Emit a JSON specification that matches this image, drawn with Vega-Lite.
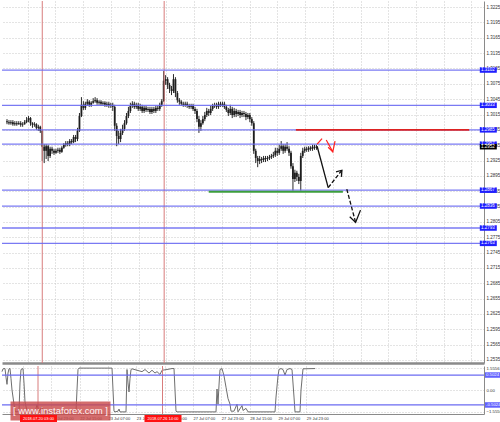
{
"$schema": "https://vega.github.io/schema/vega-lite/v6.json",
"padding": 0,
"spacing": 1,
"background": "white",
"config": {"view": {"stroke": null}, "font": "Liberation Sans", "axis": {"titleFontSize": 1}},
"datasets": {
"candles": [
{"t":0,"o":1.3002,"h":1.3006,"l":1.2996,"c":1.3000},
{"t":2,"o":1.3000,"h":1.3004,"l":1.2995,"c":1.2998},
{"t":4,"o":1.2998,"h":1.3004,"l":1.2995,"c":1.3000},
{"t":6,"o":1.3000,"h":1.3004,"l":1.2993,"c":1.2996},
{"t":8,"o":1.2996,"h":1.3002,"l":1.2993,"c":1.2998},
{"t":10,"o":1.2998,"h":1.3002,"l":1.2993,"c":1.2996},
{"t":12,"o":1.2996,"h":1.3002,"l":1.2995,"c":1.2998},
{"t":14,"o":1.2998,"h":1.3002,"l":1.2991,"c":1.2995},
{"t":16,"o":1.2995,"h":1.3000,"l":1.2991,"c":1.2996},
{"t":18,"o":1.2996,"h":1.3004,"l":1.2995,"c":1.3000},
{"t":20,"o":1.3000,"h":1.3010,"l":1.2998,"c":1.3004},
{"t":22,"o":1.3004,"h":1.3012,"l":1.3000,"c":1.3008},
{"t":24,"o":1.3008,"h":1.3010,"l":1.2993,"c":1.2998},
{"t":26,"o":1.2998,"h":1.3000,"l":1.2989,"c":1.2995},
{"t":28,"o":1.2995,"h":1.3000,"l":1.2991,"c":1.2996},
{"t":30,"o":1.2996,"h":1.2998,"l":1.2985,"c":1.2989},
{"t":32,"o":1.2989,"h":1.2995,"l":1.2983,"c":1.2991},
{"t":34,"o":1.2991,"h":1.2993,"l":1.2979,"c":1.2983},
{"t":36,"o":1.2983,"h":1.2985,"l":1.2924,"c":1.2952},
{"t":38,"o":1.2952,"h":1.2957,"l":1.2920,"c":1.2944},
{"t":40,"o":1.2944,"h":1.2957,"l":1.2928,"c":1.2953},
{"t":42,"o":1.2953,"h":1.2956,"l":1.2924,"c":1.2934},
{"t":44,"o":1.2934,"h":1.2952,"l":1.2930,"c":1.2948},
{"t":46,"o":1.2948,"h":1.2952,"l":1.2938,"c":1.2944},
{"t":48,"o":1.2944,"h":1.2948,"l":1.2936,"c":1.2940},
{"t":50,"o":1.2940,"h":1.2948,"l":1.2938,"c":1.2944},
{"t":52,"o":1.2944,"h":1.2950,"l":1.2940,"c":1.2946},
{"t":54,"o":1.2946,"h":1.2950,"l":1.2938,"c":1.2942},
{"t":56,"o":1.2942,"h":1.2953,"l":1.2940,"c":1.2950},
{"t":58,"o":1.2950,"h":1.2959,"l":1.2948,"c":1.2956},
{"t":60,"o":1.2956,"h":1.2963,"l":1.2952,"c":1.2959},
{"t":62,"o":1.2959,"h":1.2963,"l":1.2953,"c":1.2957},
{"t":64,"o":1.2957,"h":1.2967,"l":1.2953,"c":1.2963},
{"t":66,"o":1.2963,"h":1.2967,"l":1.2957,"c":1.2961},
{"t":68,"o":1.2961,"h":1.2975,"l":1.2959,"c":1.2971},
{"t":70,"o":1.2971,"h":1.2975,"l":1.2961,"c":1.2967},
{"t":72,"o":1.2967,"h":1.2989,"l":1.2963,"c":1.2983},
{"t":74,"o":1.2983,"h":1.3018,"l":1.2981,"c":1.3012},
{"t":76,"o":1.3012,"h":1.3049,"l":1.3010,"c":1.3034},
{"t":78,"o":1.3034,"h":1.3041,"l":1.3024,"c":1.3028},
{"t":80,"o":1.3028,"h":1.3040,"l":1.3024,"c":1.3036},
{"t":82,"o":1.3036,"h":1.3045,"l":1.3032,"c":1.3040},
{"t":84,"o":1.3040,"h":1.3043,"l":1.3030,"c":1.3034},
{"t":86,"o":1.3034,"h":1.3041,"l":1.3030,"c":1.3038},
{"t":88,"o":1.3038,"h":1.3047,"l":1.3036,"c":1.3041},
{"t":90,"o":1.3041,"h":1.3049,"l":1.3038,"c":1.3043},
{"t":92,"o":1.3043,"h":1.3047,"l":1.3034,"c":1.3038},
{"t":94,"o":1.3038,"h":1.3043,"l":1.3034,"c":1.3040},
{"t":96,"o":1.3040,"h":1.3043,"l":1.3032,"c":1.3036},
{"t":98,"o":1.3036,"h":1.3041,"l":1.3032,"c":1.3038},
{"t":100,"o":1.3038,"h":1.3041,"l":1.3030,"c":1.3034},
{"t":102,"o":1.3034,"h":1.3040,"l":1.3030,"c":1.3036},
{"t":104,"o":1.3036,"h":1.3040,"l":1.3028,"c":1.3032},
{"t":106,"o":1.3032,"h":1.3038,"l":1.3028,"c":1.3034},
{"t":108,"o":1.3034,"h":1.3038,"l":1.3022,"c":1.3030},
{"t":110,"o":1.3030,"h":1.3034,"l":1.2983,"c":1.2993},
{"t":112,"o":1.2993,"h":1.2998,"l":1.2953,"c":1.2973},
{"t":114,"o":1.2973,"h":1.2983,"l":1.2957,"c":1.2967},
{"t":116,"o":1.2967,"h":1.2987,"l":1.2961,"c":1.2979},
{"t":118,"o":1.2979,"h":1.2995,"l":1.2975,"c":1.2987},
{"t":120,"o":1.2987,"h":1.3004,"l":1.2983,"c":1.2998},
{"t":122,"o":1.2998,"h":1.3018,"l":1.2995,"c":1.3012},
{"t":124,"o":1.3012,"h":1.3030,"l":1.3008,"c":1.3022},
{"t":126,"o":1.3022,"h":1.3038,"l":1.3018,"c":1.3032},
{"t":128,"o":1.3032,"h":1.3041,"l":1.3028,"c":1.3036},
{"t":130,"o":1.3036,"h":1.3040,"l":1.3026,"c":1.3030},
{"t":132,"o":1.3030,"h":1.3038,"l":1.3026,"c":1.3034},
{"t":134,"o":1.3034,"h":1.3038,"l":1.3022,"c":1.3026},
{"t":136,"o":1.3026,"h":1.3036,"l":1.3022,"c":1.3030},
{"t":138,"o":1.3030,"h":1.3034,"l":1.3018,"c":1.3022},
{"t":140,"o":1.3022,"h":1.3032,"l":1.3018,"c":1.3028},
{"t":142,"o":1.3028,"h":1.3032,"l":1.3020,"c":1.3024},
{"t":144,"o":1.3024,"h":1.3030,"l":1.3020,"c":1.3026},
{"t":146,"o":1.3026,"h":1.3030,"l":1.3016,"c":1.3020},
{"t":148,"o":1.3020,"h":1.3030,"l":1.3016,"c":1.3026},
{"t":150,"o":1.3026,"h":1.3030,"l":1.3018,"c":1.3022},
{"t":152,"o":1.3022,"h":1.3032,"l":1.3018,"c":1.3028},
{"t":154,"o":1.3028,"h":1.3032,"l":1.3022,"c":1.3026},
{"t":156,"o":1.3026,"h":1.3038,"l":1.3022,"c":1.3034},
{"t":158,"o":1.3034,"h":1.3045,"l":1.3030,"c":1.3041},
{"t":160,"o":1.3041,"h":1.3100,"l":1.3040,"c":1.3081},
{"t":162,"o":1.3081,"h":1.3092,"l":1.3073,"c":1.3084},
{"t":164,"o":1.3084,"h":1.3088,"l":1.3065,"c":1.3073},
{"t":166,"o":1.3073,"h":1.3077,"l":1.3057,"c":1.3065},
{"t":168,"o":1.3065,"h":1.3071,"l":1.3053,"c":1.3061},
{"t":170,"o":1.3061,"h":1.3094,"l":1.3057,"c":1.3084},
{"t":172,"o":1.3084,"h":1.3088,"l":1.3049,"c":1.3057},
{"t":174,"o":1.3057,"h":1.3061,"l":1.3038,"c":1.3043},
{"t":176,"o":1.3043,"h":1.3047,"l":1.3034,"c":1.3040},
{"t":178,"o":1.3040,"h":1.3043,"l":1.3032,"c":1.3036},
{"t":180,"o":1.3036,"h":1.3040,"l":1.3030,"c":1.3034},
{"t":182,"o":1.3034,"h":1.3040,"l":1.3030,"c":1.3036},
{"t":184,"o":1.3036,"h":1.3040,"l":1.3028,"c":1.3032},
{"t":186,"o":1.3032,"h":1.3036,"l":1.3026,"c":1.3030},
{"t":188,"o":1.3030,"h":1.3036,"l":1.3026,"c":1.3032},
{"t":190,"o":1.3032,"h":1.3036,"l":1.3022,"c":1.3026},
{"t":192,"o":1.3026,"h":1.3030,"l":1.3016,"c":1.3022},
{"t":194,"o":1.3022,"h":1.3026,"l":1.3000,"c":1.3006},
{"t":196,"o":1.3006,"h":1.3012,"l":1.2979,"c":1.2991},
{"t":198,"o":1.2991,"h":1.3004,"l":1.2983,"c":1.2998},
{"t":200,"o":1.2998,"h":1.3012,"l":1.2995,"c":1.3006},
{"t":202,"o":1.3006,"h":1.3020,"l":1.3002,"c":1.3014},
{"t":204,"o":1.3014,"h":1.3028,"l":1.3010,"c":1.3022},
{"t":206,"o":1.3022,"h":1.3026,"l":1.3012,"c":1.3018},
{"t":208,"o":1.3018,"h":1.3032,"l":1.3014,"c":1.3026},
{"t":210,"o":1.3026,"h":1.3036,"l":1.3022,"c":1.3032},
{"t":212,"o":1.3032,"h":1.3038,"l":1.3028,"c":1.3034},
{"t":214,"o":1.3034,"h":1.3038,"l":1.3026,"c":1.3030},
{"t":216,"o":1.3030,"h":1.3040,"l":1.3026,"c":1.3036},
{"t":218,"o":1.3036,"h":1.3040,"l":1.3030,"c":1.3034},
{"t":220,"o":1.3034,"h":1.3040,"l":1.3030,"c":1.3036},
{"t":222,"o":1.3036,"h":1.3040,"l":1.3026,"c":1.3030},
{"t":224,"o":1.3030,"h":1.3034,"l":1.3020,"c":1.3024},
{"t":226,"o":1.3024,"h":1.3028,"l":1.3012,"c":1.3018},
{"t":228,"o":1.3018,"h":1.3034,"l":1.3014,"c":1.3026},
{"t":230,"o":1.3026,"h":1.3030,"l":1.3008,"c":1.3014},
{"t":232,"o":1.3014,"h":1.3028,"l":1.3010,"c":1.3022},
{"t":234,"o":1.3022,"h":1.3026,"l":1.3010,"c":1.3016},
{"t":236,"o":1.3016,"h":1.3024,"l":1.3012,"c":1.3020},
{"t":238,"o":1.3020,"h":1.3024,"l":1.3008,"c":1.3014},
{"t":240,"o":1.3014,"h":1.3022,"l":1.3010,"c":1.3018},
{"t":242,"o":1.3018,"h":1.3022,"l":1.3010,"c":1.3016},
{"t":244,"o":1.3016,"h":1.3020,"l":1.3004,"c":1.3010},
{"t":246,"o":1.3010,"h":1.3018,"l":1.3006,"c":1.3014},
{"t":248,"o":1.3014,"h":1.3018,"l":1.3000,"c":1.3006},
{"t":250,"o":1.3006,"h":1.3010,"l":1.2993,"c":1.2998},
{"t":252,"o":1.2998,"h":1.3002,"l":1.2938,"c":1.2944},
{"t":254,"o":1.2944,"h":1.2948,"l":1.2920,"c":1.2930},
{"t":256,"o":1.2930,"h":1.2934,"l":1.2912,"c":1.2924},
{"t":258,"o":1.2924,"h":1.2934,"l":1.2918,"c":1.2928},
{"t":260,"o":1.2928,"h":1.2932,"l":1.2920,"c":1.2926},
{"t":262,"o":1.2926,"h":1.2934,"l":1.2922,"c":1.2930},
{"t":264,"o":1.2930,"h":1.2934,"l":1.2922,"c":1.2928},
{"t":266,"o":1.2928,"h":1.2934,"l":1.2924,"c":1.2930},
{"t":268,"o":1.2930,"h":1.2936,"l":1.2926,"c":1.2932},
{"t":270,"o":1.2932,"h":1.2938,"l":1.2928,"c":1.2934},
{"t":272,"o":1.2934,"h":1.2942,"l":1.2930,"c":1.2936},
{"t":274,"o":1.2936,"h":1.2950,"l":1.2932,"c":1.2944},
{"t":276,"o":1.2944,"h":1.2950,"l":1.2934,"c":1.2940},
{"t":278,"o":1.2940,"h":1.2956,"l":1.2936,"c":1.2948},
{"t":280,"o":1.2948,"h":1.2963,"l":1.2944,"c":1.2953},
{"t":282,"o":1.2953,"h":1.2957,"l":1.2938,"c":1.2944},
{"t":284,"o":1.2944,"h":1.2957,"l":1.2940,"c":1.2952},
{"t":286,"o":1.2952,"h":1.2961,"l":1.2944,"c":1.2948},
{"t":288,"o":1.2948,"h":1.2953,"l":1.2934,"c":1.2940},
{"t":290,"o":1.2940,"h":1.2944,"l":1.2909,"c":1.2914},
{"t":292,"o":1.2914,"h":1.2920,"l":1.2866,"c":1.2889},
{"t":294,"o":1.2889,"h":1.2907,"l":1.2883,"c":1.2901},
{"t":296,"o":1.2901,"h":1.2905,"l":1.2885,"c":1.2893},
{"t":298,"o":1.2893,"h":1.2899,"l":1.2879,"c":1.2885},
{"t":300,"o":1.2885,"h":1.2940,"l":1.2866,"c":1.2934},
{"t":302,"o":1.2934,"h":1.2950,"l":1.2930,"c":1.2944},
{"t":304,"o":1.2944,"h":1.2952,"l":1.2940,"c":1.2948},
{"t":306,"o":1.2948,"h":1.2952,"l":1.2942,"c":1.2946},
{"t":308,"o":1.2946,"h":1.2953,"l":1.2942,"c":1.2950},
{"t":310,"o":1.2950,"h":1.2953,"l":1.2944,"c":1.2948},
{"t":312,"o":1.2948,"h":1.2956,"l":1.2944,"c":1.2952},
{"t":314,"o":1.2952,"h":1.2956,"l":1.2946,"c":1.2950},
{"t":316,"o":1.2950,"h":1.2956,"l":1.2946,"c":1.2952}
],
"levels": [
{"p":1.3102,"lab":"1.3102"},{"p":1.3033,"lab":"1.3033"},{"p":1.2985,"lab":"1.2985"},{"p":1.2957,"lab":"1.2957"},
{"p":1.2867,"lab":"1.2867"},{"p":1.2836,"lab":"1.2836"},{"p":1.2793,"lab":"1.2793"},{"p":1.2763,"lab":"1.2763"}
],
"current": [{"p":1.2952,"lab":"1.2952"}],
"segs": [{"kind":"red","t":295,"t2":472,"p":1.2985},{"kind":"green","t":206,"t2":343,"p":1.2864}],
"vlines": [{"t":36},{"t":160.5}],
"arrows": [
{"seg":"r1","i":0,"t":316.7,"p":1.2957},{"seg":"r1","i":1,"t":321.7,"p":1.2968},
{"seg":"r2","i":0,"t":326,"p":1.2965},{"seg":"r2","i":1,"t":332.7,"p":1.2942},{"seg":"r2","i":2,"t":335,"p":1.2963},
{"seg":"r3","i":0,"t":328,"p":1.2951},{"seg":"r3","i":1,"t":332.7,"p":1.2942},
{"seg":"k1","i":0,"t":316.7,"p":1.2953},{"seg":"k1","i":1,"t":328,"p":1.2872},
{"seg":"k2","i":0,"t":328,"p":1.2872},{"seg":"k2","i":1,"t":342,"p":1.2906},
{"seg":"k3","i":0,"t":336,"p":1.2903},{"seg":"k3","i":1,"t":342,"p":1.2906},{"seg":"k3","i":2,"t":341.5,"p":1.2893},
{"seg":"k4","i":0,"t":347,"p":1.2869},{"seg":"k4","i":1,"t":356,"p":1.2804},
{"seg":"k5","i":0,"t":350,"p":1.2815},{"seg":"k5","i":1,"t":356,"p":1.2804},{"seg":"k5","i":2,"t":361,"p":1.2828}
],
"ind": [
{"t":0,"v":1.3},{"t":1,"v":1.5},{"t":3,"v":1.52},{"t":4,"v":0.9},{"t":5,"v":0.4},{"t":6,"v":1.2},{"t":7,"v":1.5},{"t":8,"v":1.52},{"t":9,"v":0.8},{"t":10,"v":0.0},{"t":12,"v":-1.0},{"t":13,"v":-1.5},{"t":15,"v":-1.55},{"t":17,"v":-1.5},{"t":18,"v":0.5},{"t":19,"v":1.45},{"t":21,"v":1.52},{"t":22,"v":0.5},{"t":23,"v":-0.85},{"t":25,"v":-1.5},{"t":27,"v":-1.55},{"t":33,"v":-1.55},{"t":35,"v":-1.05},{"t":37,"v":-1.5},{"t":40,"v":-1.2},{"t":42,"v":-1.55},{"t":74,"v":-1.5},{"t":75,"v":0.0},{"t":76,"v":1.45},{"t":77,"v":1.55},{"t":110,"v":1.55},{"t":111,"v":0.0},{"t":112,"v":-1.5},{"t":113,"v":-1.55},{"t":116,"v":-1.5},{"t":117,"v":-1.35},{"t":118,"v":-1.55},{"t":124,"v":-1.55},{"t":125,"v":1.45},{"t":126,"v":0.5},{"t":127,"v":-0.14},{"t":128,"v":0.8},{"t":129,"v":1.45},{"t":130,"v":1.5},{"t":135,"v":1.4},{"t":140,"v":1.3},{"t":143,"v":1.45},{"t":147,"v":1.2},{"t":150,"v":1.4},{"t":153,"v":1.2},{"t":155,"v":1.3},{"t":158,"v":1.1},{"t":160,"v":1.4},{"t":165,"v":1.45},{"t":170,"v":1.52},{"t":172,"v":1.52},{"t":173,"v":0.0},{"t":174,"v":-1.5},{"t":175,"v":-1.55},{"t":214,"v":-1.55},{"t":215,"v":0.07},{"t":216,"v":-1.0},{"t":217,"v":0.35},{"t":218,"v":1.45},{"t":220,"v":1.52},{"t":222,"v":1.0},{"t":224,"v":0.2},{"t":226,"v":-0.6},{"t":228,"v":-1.0},{"t":229,"v":-1.5},{"t":232,"v":-1.5},{"t":235,"v":-1.0},{"t":236,"v":-1.55},{"t":240,"v":-1.1},{"t":241,"v":-1.45},{"t":244,"v":-1.3},{"t":246,"v":-1.55},{"t":273,"v":-1.55},{"t":274,"v":-0.5},{"t":276,"v":1.0},{"t":277,"v":1.45},{"t":279,"v":1.52},{"t":281,"v":1.45},{"t":283,"v":1.06},{"t":285,"v":1.45},{"t":288,"v":1.52},{"t":290,"v":1.45},{"t":292,"v":-0.5},{"t":293,"v":-1.55},{"t":298,"v":-1.55},{"t":299,"v":0.0},{"t":301,"v":1.5},{"t":313,"v":1.52}
],
"indlev": [{"v":1.06,"lab":"0.5024"},{"v":-1.06,"lab":"-0.5024"}],
"dates": [{"t":36.5,"lab":"2018.07.20 03:00"},{"t":161,"lab":"2018.07.26 14:00"}],
"brand": [{"lab":"[ www.instaforex.com ]"}]
},
"vconcat": [
{
"width": 482, "height": 362,
"layer": [
{"data": {"name": "candles"}, "mark": {"type": "rule", "color": "#2a2a2a", "strokeWidth": 1},
 "encoding": {
  "x": {"field": "t", "type": "quantitative", "scale": {"domain": [0, 482], "nice": false, "zero": false},
        "axis": {"orient": "bottom", "title": null, "labels": false, "ticks": false, "tickCount": 100, "domainColor": "#8a8a8a", "domainWidth": 2.5, "grid": true, "gridColor": "#c8c8c8", "gridDash": [1, 2], "values": [21, 49.33, 77.67, 106, 134.33, 162.67, 191, 219.33, 247.67, 276, 304.33, 332.67, 361, 389.33, 417.67, 446, 474.33]}},
  "y": {"field": "l", "type": "quantitative", "scale": {"domain": [1.2529, 1.3237], "nice": false, "zero": false},
        "axis": {"orient": "right", "title": null, "tickCount": 100, "values": [1.2535,1.2565,1.2595,1.2625,1.2655,1.2685,1.2715,1.2745,1.2775,1.2805,1.2835,1.2865,1.2895,1.2925,1.2955,1.2985,1.3015,1.3045,1.3075,1.3105,1.3135,1.3165,1.3195,1.3225], "format": ".4f", "labelFontSize": 4.5, "labelColor": "#333", "ticks": false, "labelPadding": 2, "domainColor": "#8a8a8a", "grid": true, "gridColor": "#c8c8c8", "gridDash": [1, 2], "labelOverlap": false}},
  "y2": {"field": "h"}
 }},
{"data": {"name": "candles"}, "mark": {"type": "bar", "color": "#1e1e1e", "width": 1.8},
 "encoding": {"x": {"field": "t", "type": "quantitative", "axis": {"title": null}}, "y": {"field": "o", "type": "quantitative", "axis": {"title": null}}, "y2": {"field": "c"}}},
{"data": {"name": "vlines"}, "mark": {"type": "rule", "color": "#d87c7c", "strokeWidth": 1},
 "encoding": {"x": {"field": "t", "type": "quantitative", "axis": {"title": null}}}},
{"data": {"name": "levels"}, "mark": {"type": "rule", "color": "#6b6bf2", "strokeWidth": 1.3, "opacity": 0.9},
 "encoding": {"y": {"field": "p", "type": "quantitative", "axis": {"title": null}}}},
{"data": {"name": "segs"}, "transform": [{"filter": "datum.kind == 'red'"}], "mark": {"type": "rule", "color": "#dd2222", "strokeWidth": 1.6},
 "encoding": {"x": {"field": "t", "type": "quantitative", "axis": {"title": null}}, "x2": {"field": "t2"}, "y": {"field": "p", "type": "quantitative", "axis": {"title": null}}}},
{"data": {"name": "segs"}, "transform": [{"filter": "datum.kind == 'green'"}], "mark": {"type": "rule", "color": "#3c9e3c", "strokeWidth": 2},
 "encoding": {"x": {"field": "t", "type": "quantitative", "axis": {"title": null}}, "x2": {"field": "t2"}, "y": {"field": "p", "type": "quantitative", "axis": {"title": null}}}},
{"data": {"name": "arrows"}, "transform": [{"filter": {"field": "seg", "oneOf": ["r1", "r2", "r3"]}}], "mark": {"type": "line", "color": "#ff2020", "strokeWidth": 1.2},
 "encoding": {"x": {"field": "t", "type": "quantitative", "axis": {"title": null}}, "y": {"field": "p", "type": "quantitative", "axis": {"title": null}}, "detail": {"field": "seg"}, "order": {"field": "i"}}},
{"data": {"name": "arrows"}, "transform": [{"filter": {"field": "seg", "oneOf": ["k1", "k3", "k5"]}}], "mark": {"type": "line", "color": "#111111", "strokeWidth": 1.3},
 "encoding": {"x": {"field": "t", "type": "quantitative", "axis": {"title": null}}, "y": {"field": "p", "type": "quantitative", "axis": {"title": null}}, "detail": {"field": "seg"}, "order": {"field": "i"}}},
{"data": {"name": "arrows"}, "transform": [{"filter": {"field": "seg", "oneOf": ["k2", "k4"]}}], "mark": {"type": "line", "color": "#111111", "strokeWidth": 1.3, "strokeDash": [4, 2]},
 "encoding": {"x": {"field": "t", "type": "quantitative", "axis": {"title": null}}, "y": {"field": "p", "type": "quantitative", "axis": {"title": null}}, "detail": {"field": "seg"}, "order": {"field": "i"}}},
{"data": {"name": "levels"}, "mark": {"type": "tick", "orient": "horizontal", "color": "#1f1fff", "size": 17, "thickness": 5.5, "opacity": 1},
 "encoding": {"x": {"datum": 491.5, "type": "quantitative"}, "y": {"field": "p", "type": "quantitative", "axis": {"title": null}}}},
{"data": {"name": "current"}, "mark": {"type": "tick", "orient": "horizontal", "color": "#000000", "size": 17, "thickness": 5.5, "opacity": 1},
 "encoding": {"x": {"datum": 491.5, "type": "quantitative"}, "y": {"field": "p", "type": "quantitative", "axis": {"title": null}}}},
{"data": {"name": "levels"}, "mark": {"type": "text", "color": "white", "fontSize": 4.5, "align": "left", "baseline": "middle"},
 "encoding": {"x": {"datum": 484, "type": "quantitative"}, "y": {"field": "p", "type": "quantitative", "axis": {"title": null}}, "text": {"field": "lab"}}},
{"data": {"name": "current"}, "mark": {"type": "text", "color": "white", "fontSize": 4.5, "align": "left", "baseline": "middle"},
 "encoding": {"x": {"datum": 484, "type": "quantitative"}, "y": {"field": "p", "type": "quantitative", "axis": {"title": null}}, "text": {"field": "lab"}}}
]
},
{
"width": 482, "height": 48,
"layer": [
{"data": {"name": "ind"}, "mark": {"type": "line", "color": "#6e6e6e", "strokeWidth": 1},
 "encoding": {
  "x": {"field": "t", "type": "quantitative", "scale": {"domain": [0, 482], "nice": false, "zero": false},
        "axis": {"orient": "bottom", "title": null, "tickCount": 100, "values": [21, 49.33, 77.67, 106, 134.33, 162.67, 191, 219.33, 247.67, 276, 304.33], "labelExpr": "datum.value < 30 ? '20 Jul 07:00' : datum.value < 60 ? '20 Jul 23:00' : datum.value < 90 ? '22 Jul 15:00' : datum.value < 120 ? '23 Jul 07:00' : datum.value < 150 ? '23 Jul 23:00' : datum.value < 180 ? '24 Jul 15:00' : datum.value < 200 ? '27 Jul 07:00' : datum.value < 230 ? '27 Jul 23:00' : datum.value < 260 ? '28 Jul 15:00' : datum.value < 290 ? '29 Jul 07:00' : '29 Jul 23:00'", "labelAlign": "left", "labelFontSize": 4, "labelColor": "#333", "labelPadding": 2, "labelFlush": false, "labelOverlap": false, "ticks": false, "domainColor": "#8a8a8a", "grid": true, "gridColor": "#c8c8c8", "gridDash": [1, 2]}},
  "y": {"field": "v", "type": "quantitative", "scale": {"domain": [-1.7, 1.7], "nice": false, "zero": false},
        "axis": {"orient": "right", "title": null, "tickCount": 100, "values": [-1.5556, 0, 1.5556], "labelExpr": "datum.value == 0 ? '0.00' : format(datum.value, '.4f')", "labelFontSize": 4.3, "labelColor": "#333", "ticks": false, "labelPadding": 2, "domainColor": "#8a8a8a", "grid": true, "gridColor": "#c8c8c8", "gridDash": [1, 2], "labelOverlap": false}}
 }},
{"data": {"name": "vlines"}, "mark": {"type": "rule", "color": "#d87c7c", "strokeWidth": 1},
 "encoding": {"x": {"field": "t", "type": "quantitative", "axis": {"title": null}}}},
{"data": {"name": "indlev"}, "mark": {"type": "rule", "color": "#6b6bf2", "strokeWidth": 1.2},
 "encoding": {"y": {"field": "v", "type": "quantitative", "axis": {"title": null}}}},
{"data": {"name": "indlev"}, "mark": {"type": "tick", "orient": "horizontal", "color": "#1f1fff", "size": 17, "thickness": 5.5},
 "encoding": {"x": {"datum": 491.5, "type": "quantitative"}, "y": {"field": "v", "type": "quantitative", "axis": {"title": null}}}},
{"data": {"name": "indlev"}, "mark": {"type": "text", "color": "white", "fontSize": 4.3, "align": "left", "baseline": "middle"},
 "encoding": {"x": {"datum": 484, "type": "quantitative"}, "y": {"field": "v", "type": "quantitative", "axis": {"title": null}}, "text": {"field": "lab"}}},
{"data": {"name": "brand"}, "mark": {"type": "tick", "orient": "horizontal", "color": "#c94848", "size": 100, "thickness": 19, "opacity": 0.8},
 "encoding": {"x": {"datum": 58.5, "type": "quantitative"}, "y": {"datum": -1.49, "type": "quantitative"}}},
{"data": {"name": "dates"}, "mark": {"type": "tick", "orient": "horizontal", "color": "#ff1010", "size": 37, "thickness": 8, "opacity": 1},
 "encoding": {"x": {"field": "t", "type": "quantitative", "axis": {"title": null}}, "y": {"datum": -2.05, "type": "quantitative"}}},
{"data": {"name": "dates"}, "mark": {"type": "text", "color": "white", "fontSize": 4, "align": "center", "baseline": "middle"},
 "encoding": {"x": {"field": "t", "type": "quantitative", "axis": {"title": null}}, "y": {"datum": -2.05, "type": "quantitative"}, "text": {"field": "lab"}}},
{"data": {"name": "brand"}, "mark": {"type": "text", "color": "#fff4f4", "fontSize": 9.5, "align": "center", "baseline": "middle"},
 "encoding": {"x": {"datum": 58.5, "type": "quantitative"}, "y": {"datum": -1.49, "type": "quantitative"}, "text": {"field": "lab"}}}
]
}
]
}
